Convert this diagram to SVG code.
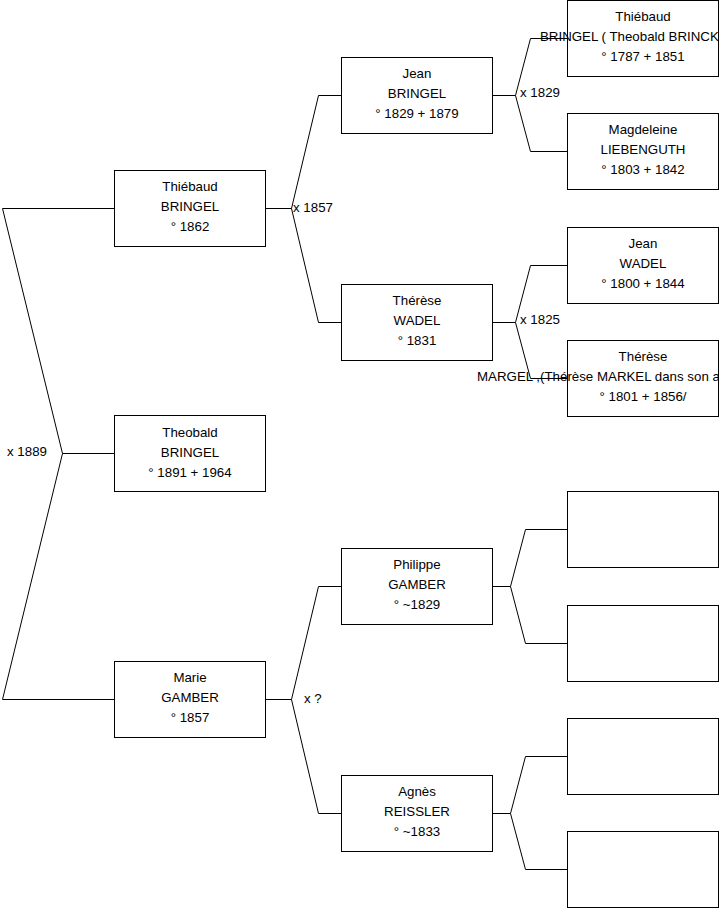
<svg xmlns="http://www.w3.org/2000/svg" width="719" height="908" viewBox="0 0 719 908">
<style>
.box{fill:#fff;stroke:#000;stroke-width:1}
.ln{fill:none;stroke:#000;stroke-width:1}
text{font-family:"Liberation Sans",Arial,sans-serif;font-size:13.3px;fill:#000}
.c{text-anchor:middle}
</style>
<rect width="719" height="908" fill="#fff"/>
<g id="connectors">
<path class="ln" d="M114.5,453.5H62.5L2.5,208.5H114.5M62.5,453.5L2.5,699.5H114.5"/>
<path class="ln" d="M265.5,208.5H291.5L318.5,95.5H341.5M291.5,208.5L318.5,322.5H341.5"/>
<path class="ln" d="M265.5,699.5H291.5L318.5,586.5H341.5M291.5,699.5L318.5,813.5H341.5"/>
<path class="ln" d="M492.5,95.5H515.5L530.5,38.5H567.5M515.5,95.5L530.5,151.5H567.5"/>
<path class="ln" d="M492.5,322.5H515.5L530.5,265.5H567.5M515.5,322.5L530.5,378.5H567.5"/>
<path class="ln" d="M492.5,586.5H510.5L525.5,529.5H567.5M510.5,586.5L525.5,643.5H567.5"/>
<path class="ln" d="M492.5,813.5H510.5L525.5,756.5H567.5M510.5,813.5L525.5,869.5H567.5"/>
<text x="7" y="456">x 1889</text>
<text x="293" y="212">x 1857</text>
<text x="304" y="703">x ?</text>
<text x="520" y="97">x 1829</text>
<text x="520" y="324">x 1825</text>
</g>
<g id="theobald">
<rect class="box" x="114.5" y="415.5" width="151" height="76"/>
<text class="c" x="190" y="437">Theobald</text>
<text class="c" x="190" y="457">BRINGEL</text>
<text class="c" x="190" y="477">° 1891 + 1964</text>
</g>
<g id="thiebaud">
<rect class="box" x="114.5" y="170.5" width="151" height="76"/>
<text class="c" x="190" y="191">Thiébaud</text>
<text class="c" x="190" y="211">BRINGEL</text>
<text class="c" x="190" y="231">° 1862</text>
</g>
<g id="marie">
<rect class="box" x="114.5" y="661.5" width="151" height="76"/>
<text class="c" x="190" y="682">Marie</text>
<text class="c" x="190" y="702">GAMBER</text>
<text class="c" x="190" y="722">° 1857</text>
</g>
<g id="jean">
<rect class="box" x="341.5" y="57.5" width="151" height="76"/>
<text class="c" x="417" y="78">Jean</text>
<text class="c" x="417" y="98">BRINGEL</text>
<text class="c" x="417" y="118">° 1829 + 1879</text>
</g>
<g id="therese">
<rect class="box" x="341.5" y="284.5" width="151" height="76"/>
<text class="c" x="417" y="305">Thérèse</text>
<text class="c" x="417" y="325">WADEL</text>
<text class="c" x="417" y="345">° 1831</text>
</g>
<g id="philippe">
<rect class="box" x="341.5" y="548.5" width="151" height="76"/>
<text class="c" x="417" y="569">Philippe</text>
<text class="c" x="417" y="589">GAMBER</text>
<text class="c" x="417" y="609">° ~1829</text>
</g>
<g id="agnes">
<rect class="box" x="341.5" y="775.5" width="151" height="76"/>
<text class="c" x="417" y="796">Agnès</text>
<text class="c" x="417" y="816">REISSLER</text>
<text class="c" x="417" y="836">° ~1833</text>
</g>
<g id="thiebaud-sr">
<rect class="box" x="567.5" y="0.5" width="151" height="76"/>
<text class="c" x="643" y="21">Thiébaud</text>
<text x="540" y="41">BRINGEL ( Theobald BRINCK</text>
<text class="c" x="643" y="61">° 1787 + 1851</text>
</g>
<g id="magdeleine">
<rect class="box" x="567.5" y="113.5" width="151" height="76"/>
<text class="c" x="643" y="134">Magdeleine</text>
<text class="c" x="643" y="154">LIEBENGUTH</text>
<text class="c" x="643" y="174">° 1803 + 1842</text>
</g>
<g id="jean-wadel">
<rect class="box" x="567.5" y="227.5" width="151" height="76"/>
<text class="c" x="643" y="248">Jean</text>
<text class="c" x="643" y="268">WADEL</text>
<text class="c" x="643" y="288">° 1800 + 1844</text>
</g>
<g id="therese-margel">
<rect class="box" x="567.5" y="340.5" width="151" height="76"/>
<text class="c" x="643" y="361">Thérèse</text>
<text x="477" y="381">MARGEL ,(Thérèse MARKEL dans son a</text>
<text class="c" x="643" y="401">° 1801 + 1856/</text>
</g>
<g id="empty1"><rect class="box" x="567.5" y="491.5" width="151" height="76"/></g>
<g id="empty2"><rect class="box" x="567.5" y="605.5" width="151" height="76"/></g>
<g id="empty3"><rect class="box" x="567.5" y="718.5" width="151" height="76"/></g>
<g id="empty4"><rect class="box" x="567.5" y="831.5" width="151" height="76"/></g>
</svg>
